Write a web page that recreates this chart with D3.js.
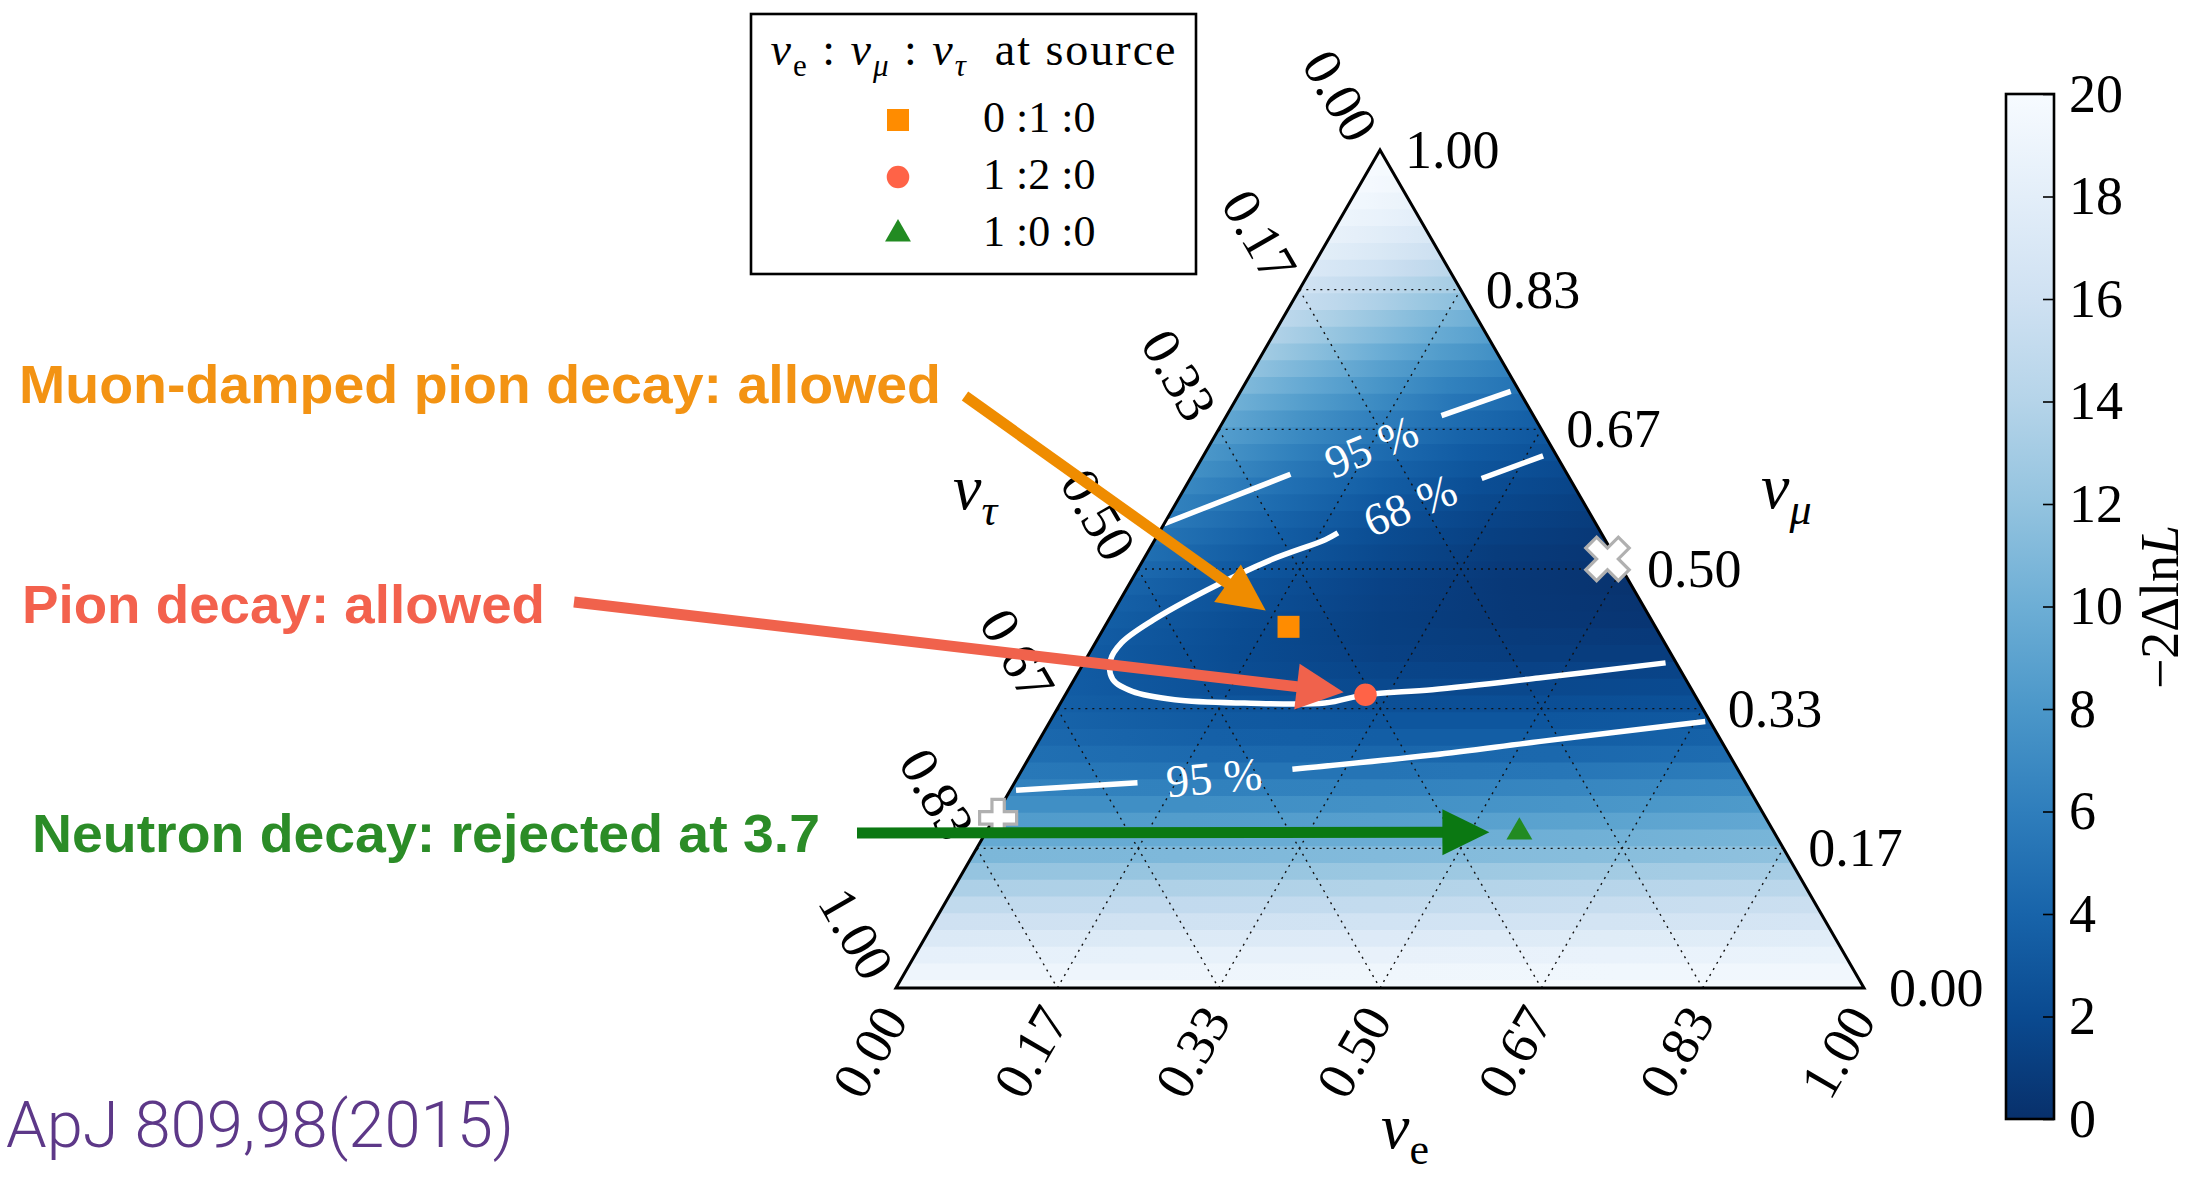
<!DOCTYPE html>
<html>
<head>
<meta charset="utf-8">
<script src="https://cdn.jsdelivr.net/npm/d3@7"></script>
<style>
  body { margin: 0; background: #fff; }
  svg { display: block; }
  .serif { font-family: "Liberation Serif", "DejaVu Serif", serif; }
  .note { font-family: "Liberation Sans", Arial, sans-serif; font-weight: bold; }
</style>
</head>
<body>
<svg id="chart" width="2203" height="1183"></svg>
<script>
/* ---------------------- DATA ---------------------- */
var tickLabels = ["0.00", "0.17", "0.33", "0.50", "0.67", "0.83", "1.00"];
var tickFractions = [0, 1 / 6, 2 / 6, 3 / 6, 4 / 6, 5 / 6, 1];

// heatmap rows of constant nu_mu, values of -2 Delta lnL read along each row
// (rowPos: 0 = nu_e = 0 edge on the left, 1 = nu_tau = 0 edge on the right)
var muRows = [0.00, 0.02, 0.04, 0.06, 0.08, 0.10, 0.12, 0.14, 0.16, 0.18,
              0.20, 0.22, 0.24, 0.26, 0.28, 0.30, 0.32, 0.34, 0.36, 0.38,
              0.40, 0.42, 0.44, 0.46, 0.48, 0.50, 0.52, 0.54, 0.56, 0.58,
              0.60, 0.62, 0.64, 0.66, 0.68, 0.70, 0.72, 0.74, 0.76, 0.78,
              0.80, 0.82, 0.84, 0.86, 0.88, 0.90, 0.92, 0.94, 0.96, 0.98, 1.00];
var rowPos = [0, 0.25, 0.5, 0.75, 1];
var rowValues = [
    [19.7, 19.7, 19.7, 19.8, 19.8],
    [19.1, 19.1, 19.2, 19.3, 19.4],
    [18.3, 18.4, 18.5, 18.6, 18.7],
    [17.2, 17.3, 17.4, 17.6, 17.8],
    [16.0, 16.1, 16.2, 16.4, 16.6],
    [14.8, 14.9, 15.0, 15.3, 15.6],
    [13.5, 13.6, 13.8, 14.1, 14.4],
    [12.1, 12.2, 12.4, 12.8, 13.1],
    [10.8, 10.9, 11.1, 11.4, 11.8],
    [9.6, 9.7, 9.9, 10.2, 10.6],
    [8.4, 8.5, 8.7, 9.0, 9.4],
    [7.3, 7.3, 7.5, 7.8, 8.2],
    [6.3, 6.2, 6.3, 6.6, 7.0],
    [5.5, 5.2, 5.2, 5.4, 5.8],
    [4.8, 4.4, 4.2, 4.3, 4.6],
    [4.3, 3.7, 3.5, 3.5, 3.8],
    [3.9, 3.2, 2.9, 2.9, 3.1],
    [3.6, 2.8, 2.4, 2.3, 2.5],
    [3.4, 2.4, 1.9, 1.8, 2.0],
    [3.3, 2.2, 1.6, 1.4, 1.5],
    [3.3, 2.1, 1.3, 1.0, 1.0],
    [3.4, 2.1, 1.2, 0.8, 0.7],
    [3.5, 2.2, 1.2, 0.6, 0.4],
    [3.7, 2.4, 1.3, 0.6, 0.3],
    [4.0, 2.6, 1.4, 0.6, 0.2],
    [4.4, 2.9, 1.6, 0.7, 0.2],
    [4.8, 3.2, 1.9, 0.9, 0.4],
    [5.2, 3.6, 2.2, 1.2, 0.6],
    [5.7, 4.0, 2.6, 1.5, 0.9],
    [6.2, 4.5, 3.0, 1.9, 1.2],
    [6.8, 5.0, 3.5, 2.3, 1.6],
    [7.4, 5.6, 4.0, 2.8, 2.0],
    [8.0, 6.2, 4.6, 3.3, 2.5],
    [8.7, 6.9, 5.3, 3.9, 3.0],
    [9.4, 7.6, 6.0, 4.6, 3.6],
    [10.2, 8.5, 6.9, 5.4, 4.4],
    [11.0, 9.4, 7.8, 6.3, 5.2],
    [11.9, 10.4, 8.8, 7.4, 6.3],
    [12.8, 11.4, 9.9, 8.5, 7.4],
    [13.7, 12.4, 11.1, 9.8, 8.7],
    [14.5, 13.4, 12.2, 11.0, 10.0],
    [15.4, 14.5, 13.5, 12.4, 11.5],
    [16.2, 15.5, 14.7, 13.8, 13.0],
    [17.1, 16.5, 15.9, 15.1, 14.4],
    [17.9, 17.5, 17.0, 16.4, 15.8],
    [18.5, 18.2, 17.8, 17.4, 17.0],
    [19.0, 18.8, 18.6, 18.3, 18.0],
    [19.4, 19.3, 19.1, 18.9, 18.7],
    [19.7, 19.7, 19.6, 19.5, 19.4],
    [19.9, 19.9, 19.8, 19.8, 19.8],
    [20, 20, 20, 20, 20]
];

// contour segments as [nu_e, nu_mu] (gaps are where the labels sit)
var contour68 = [
    [[0.351, 0.635], [0.301, 0.608]],
    [[0.185, 0.543], [0.176, 0.535], [0.132, 0.511], [0.084, 0.475], [0.046, 0.439],
     [0.027, 0.412], [0.026, 0.391], [0.040, 0.368], [0.067, 0.354], [0.116, 0.344],
     [0.190, 0.340], [0.273, 0.340], [0.310, 0.350], [0.376, 0.356], [0.479, 0.370],
     [0.601, 0.388]]
];
var contour95 = [
    [[0.000, 0.554], [0.053, 0.585], [0.101, 0.613]],
    [[0.222, 0.683], [0.279, 0.712]],
    [[0.006, 0.236], [0.127, 0.245]],
    [[0.279, 0.261], [0.415, 0.278], [0.517, 0.294], [0.677, 0.318]]
];
var contourLabels = [
    {text: "95 %", e: 0.168, mu: 0.646, angle: -22},
    {text: "68 %", e: 0.243, mu: 0.576, angle: -22},
    {text: "95 %", e: 0.203, mu: 0.251, angle: -5}
];

// flavour ratios at Earth for the three source compositions
var sources = [
    {label: "0 :1 :0", e: 0.190, mu: 0.431, shape: "square", color: "darkorange"},
    {label: "1 :2 :0", e: 0.310, mu: 0.350, shape: "circle", color: "tomato"},
    {label: "1 :0 :0", e: 0.551, mu: 0.186, shape: "triangle", color: "forestgreen"}
];
// best fit points
var bestFits = [
    {e: 0.479, mu: 0.512, shape: "x"},
    {e: 0.004, mu: 0.203, shape: "plus"}
];

var notes = [
    {text: "Muon-damped pion decay: allowed", source: 0, color: "#f39313", arrow: "#ef8c00"},
    {text: "Pion decay: allowed", source: 1, color: "#f3614d", arrow: "#f0624c"},
    {text: "Neutron decay: rejected at 3.7", source: 2, color: "#2b8c27", arrow: "#0b7812"}
];

var cbTicks = [0, 2, 4, 6, 8, 10, 12, 14, 16, 18, 20];

/* --------------------- SETUP ---------------------- */
var svg = d3.select("#chart");
var defs = svg.append("defs");

var xs = d3.scaleLinear().domain([0, 1]).range([896, 1864]);
var ys = d3.scaleLinear().domain([0, 1]).range([988, 150]);
function proj(e, mu) { return [xs(e + mu / 2), ys(mu)]; }

var color = d3.scaleSequential(d3.interpolateBlues).domain([20, 0]);

var corners = [proj(0, 0), proj(1, 0), proj(0, 1)];
defs.append("clipPath").attr("id", "tri")
    .append("path").attr("d", "M" + corners.join("L") + "Z");

/* -------------------- HEATMAP --------------------- */
var heat = svg.append("g").attr("clip-path", "url(#tri)");
var half = 0.01;
muRows.forEach(function (mu, i) {
    var lo = Math.max(0, mu - half), hi = Math.min(1, mu + half);
    var xl = proj(0, mu)[0], xr = proj(1 - mu, mu)[0];
    var fill;
    if (xr - xl < 2) {
        fill = color(rowValues[i][0]);
    } else {
        var grad = defs.append("linearGradient").attr("id", "row" + i)
            .attr("gradientUnits", "userSpaceOnUse")
            .attr("x1", xl).attr("x2", xr).attr("y1", 0).attr("y2", 0);
        grad.selectAll("stop").data(rowValues[i]).enter().append("stop")
            .attr("offset", function (d, j) { return rowPos[j]; })
            .attr("stop-color", function (d) { return color(d); });
        fill = "url(#row" + i + ")";
    }
    var y0 = ys(lo) + 0.7, y1 = ys(hi) - 0.7;
    heat.append("path")
        .attr("d", "M" + [[xs(0) - 5, y0], [xs(1) + 5, y0], [xs(1) + 5, y1], [xs(0) - 5, y1]].join("L") + "Z")
        .attr("fill", fill);
});

/* ---------------------- GRID ---------------------- */
var grid = svg.append("g")
    .attr("stroke", "#111").attr("stroke-width", 1.4)
    .attr("stroke-dasharray", "2,5").attr("fill", "none");
tickFractions.slice(1, 6).forEach(function (f) {
    grid.append("line").datum([proj(0, f), proj(1 - f, f)]);      // constant nu_mu
    grid.append("line").datum([proj(f, 0), proj(f, 1 - f)]);      // constant nu_e
    grid.append("line").datum([proj(0, 1 - f), proj(1 - f, 0)]);  // constant nu_tau
});
grid.selectAll("line")
    .attr("x1", function (d) { return d[0][0]; }).attr("y1", function (d) { return d[0][1]; })
    .attr("x2", function (d) { return d[1][0]; }).attr("y2", function (d) { return d[1][1]; });

/* -------------------- CONTOURS -------------------- */
var line = d3.line()
    .x(function (d) { return proj(d[0], d[1])[0]; })
    .y(function (d) { return proj(d[0], d[1])[1]; })
    .curve(d3.curveCatmullRom);
svg.append("g").selectAll("path").data(contour68.concat(contour95)).enter().append("path")
    .attr("d", line).attr("fill", "none").attr("stroke", "#fff")
    .attr("stroke-width", 5.5).attr("stroke-linecap", "butt");

svg.append("g").selectAll("text").data(contourLabels).enter().append("text")
    .attr("class", "serif")
    .attr("transform", function (d) {
        var p = proj(d.e, d.mu);
        return "translate(" + p + ") rotate(" + d.angle + ")";
    })
    .attr("text-anchor", "middle").attr("dominant-baseline", "central")
    .attr("fill", "#fff").style("font-size", "46px")
    .text(function (d) { return d.text; });

// triangle outline
svg.append("path").attr("d", "M" + corners.join("L") + "Z")
    .attr("fill", "none").attr("stroke", "#000").attr("stroke-width", 3)
    .attr("stroke-linejoin", "miter");

/* ------------------- AXIS LABELS ------------------ */
var axes = svg.append("g").attr("class", "serif").style("font-size", "54px");
// nu_mu, right side, horizontal
axes.selectAll(".tr").data(tickFractions).enter().append("text")
    .attr("x", function (d) { return proj(1 - d, d)[0] + 25; })
    .attr("y", function (d) { return proj(1 - d, d)[1] + 18; })
    .text(function (d, i) { return tickLabels[i]; });
// nu_tau, left side
axes.selectAll(".tl").data(tickFractions).enter().append("text")
    .attr("transform", function (d) {
        var p = proj(0, 1 - d);
        return "translate(" + (p[0] - 40) + "," + (p[1] - 54) + ") rotate(60)";
    })
    .attr("text-anchor", "middle").attr("dominant-baseline", "central")
    .text(function (d, i) { return tickLabels[i]; });
// nu_e, bottom
axes.selectAll(".tb").data(tickFractions).enter().append("text")
    .attr("transform", function (d) {
        var p = proj(d, 0);
        return "translate(" + (p[0] - 26) + "," + (p[1] + 64) + ") rotate(-60)";
    })
    .attr("text-anchor", "middle").attr("dominant-baseline", "central")
    .text(function (d, i) { return tickLabels[i]; });

// nu with a subscript
function nuLabel(sel, x, y, size, sub, subItalic) {
    var t = sel.append("text").attr("class", "serif")
        .attr("x", x).attr("y", y).style("font-size", size + "px");
    t.append("tspan").style("font-style", "italic").text("ν");
    t.append("tspan").attr("dy", size * 0.25)
        .style("font-size", Math.round(size * 0.68) + "px")
        .style("font-style", subItalic ? "italic" : "normal").text(sub);
    return t;
}
nuLabel(svg, 953, 509, 64, "τ", true);
nuLabel(svg, 1761, 508, 64, "μ", true);
nuLabel(svg, 1381, 1148, 64, "e", false);

/* ---------------- BEST FIT MARKERS ---------------- */
var sym = {
    square: d3.symbol(d3.symbolSquare, 484),
    circle: d3.symbol(d3.symbolCircle, 400),
    triangle: d3.symbol(d3.symbolTriangle, 290),
    x: d3.symbol(d3.symbolCross, 1180),
    plus: d3.symbol(d3.symbolCross, 760)
};
svg.append("g").selectAll("path").data(bestFits).enter().append("path")
    .attr("d", function (d) { return sym[d.shape](); })
    .attr("transform", function (d) {
        return "translate(" + proj(d.e, d.mu) + ")" + (d.shape == "x" ? " rotate(45)" : "");
    })
    .attr("fill", "#fff").attr("stroke", "#b0b0b0").attr("stroke-width", 3.2);

/* ------------------ ANNOTATIONS ------------------- */
var noteLayout = [
    {x: 19, y: 403, len: 922, from: [965, 396], gap: 28},
    {x: 22, y: 623, len: 523, from: [574, 602], gap: 22},
    {x: 32, y: 852, len: 788, from: [857, 833], gap: 30}
];
var noteG = svg.append("g");
notes.forEach(function (n, i) {
    var L = noteLayout[i], s = sources[n.source];
    var to = proj(s.e, s.mu);
    var dx = to[0] - L.from[0], dy = to[1] - L.from[1], d = Math.sqrt(dx * dx + dy * dy);
    var ux = dx / d, uy = dy / d;
    var tip = [to[0] - ux * L.gap, to[1] - uy * L.gap];
    var headL = 47, headW = 23;
    var base = [tip[0] - ux * headL, tip[1] - uy * headL];
    noteG.append("line")
        .attr("x1", L.from[0]).attr("y1", L.from[1])
        .attr("x2", base[0] + ux * 4).attr("y2", base[1] + uy * 4)
        .attr("stroke", n.arrow).attr("stroke-width", 11);
    noteG.append("path")
        .attr("d", "M" + [tip, [base[0] - uy * headW, base[1] + ux * headW],
                          [base[0] + uy * headW, base[1] - ux * headW]].join("L") + "Z")
        .attr("fill", n.arrow);
    noteG.append("text").attr("class", "note")
        .attr("x", L.x).attr("y", L.y)
        .attr("textLength", L.len).attr("lengthAdjust", "spacingAndGlyphs")
        .style("font-size", "53px").attr("fill", n.color)
        .text(n.text);
});

/* ------------------ SOURCE MARKERS ---------------- */
svg.append("g").selectAll("path").data(sources).enter().append("path")
    .attr("d", function (d) { return sym[d.shape](); })
    .attr("transform", function (d) { return "translate(" + proj(d.e, d.mu) + ")"; })
    .attr("fill", function (d) { return d.color; });

/* --------------------- LEGEND --------------------- */
var leg = svg.append("g");
leg.append("rect").attr("x", 751).attr("y", 14).attr("width", 445).attr("height", 260)
    .attr("fill", "#fff").attr("stroke", "#000").attr("stroke-width", 2.6);
var title = leg.append("text").attr("class", "serif")
    .attr("x", 973).attr("y", 65).attr("text-anchor", "middle").style("font-size", "46px")
    .attr("textLength", 405).attr("lengthAdjust", "spacing");
var parts = [
    {t: "ν", it: 1}, {t: "e", sub: 1}, {t: " : "}, {t: "ν", it: 1}, {t: "μ", sub: 1, it: 1},
    {t: " : "}, {t: "ν", it: 1}, {t: "τ", sub: 1, it: 1}, {t: "  at source"}
];
var shift = 0;
parts.forEach(function (p) {
    var want = p.sub ? 11 : 0;
    title.append("tspan").attr("dy", want - shift)
        .style("font-style", p.it ? "italic" : "normal")
        .style("font-size", p.sub ? "31px" : null)
        .attr("xml:space", "preserve")
        .text(p.t);
    shift = want;
});
var rows = leg.selectAll(".row").data(sources).enter().append("g")
    .attr("transform", function (d, i) { return "translate(0," + (i * 57) + ")"; });
rows.append("path")
    .attr("d", function (d) { return sym[d.shape](); })
    .attr("transform", "translate(898,120)")
    .attr("fill", function (d) { return d.color; });
rows.append("text").attr("class", "serif")
    .attr("x", 983).attr("y", 132).style("font-size", "44px")
    .text(function (d) { return d.label; });

/* -------------------- COLORBAR -------------------- */
var cbX = 2006, cbW = 48;
var cbY = d3.scaleLinear().domain([0, 20]).range([1119, 94]);
var cbGrad = defs.append("linearGradient").attr("id", "cb")
    .attr("x1", 0).attr("y1", 1).attr("x2", 0).attr("y2", 0);
cbGrad.selectAll("stop").data(cbTicks).enter().append("stop")
    .attr("offset", function (d) { return d / 20; })
    .attr("stop-color", function (d) { return color(d); });
svg.append("rect").attr("x", cbX).attr("y", cbY(20)).attr("width", cbW)
    .attr("height", cbY(0) - cbY(20)).attr("fill", "url(#cb)")
    .attr("stroke", "#000").attr("stroke-width", 2.6);

var cbAxis = svg.append("g").attr("class", "serif")
    .attr("transform", "translate(" + (cbX + cbW) + ",0)")
    .call(d3.axisRight(cbY).tickValues(cbTicks).tickSizeInner(-11).tickSizeOuter(0).tickPadding(15));
cbAxis.select(".domain").remove();
cbAxis.selectAll("line").attr("stroke", "#000").attr("stroke-width", 1.6);
cbAxis.selectAll("text").attr("fill", "#000").attr("font-family", null).attr("font-size", null)
    .style("font-size", "54px");

var cbLabel = svg.append("text").attr("class", "serif")
    .attr("transform", "translate(2160,607) rotate(-90)")
    .attr("text-anchor", "middle").attr("dominant-baseline", "central")
    .style("font-size", "54px");
cbLabel.append("tspan").text("−2Δln");
cbLabel.append("tspan").style("font-style", "italic").text("L");

/* --------------------- SOURCE --------------------- */
svg.append("text").attr("x", 6).attr("y", 1147)
    .attr("textLength", 508).attr("lengthAdjust", "spacingAndGlyphs")
    .style("font-family", "Roboto, 'Liberation Sans', sans-serif")
    .style("font-weight", 300).style("font-size", "64px")
    .attr("fill", "#5d3888")
    .text("ApJ 809,98(2015)");
</script>
</body>
</html>
